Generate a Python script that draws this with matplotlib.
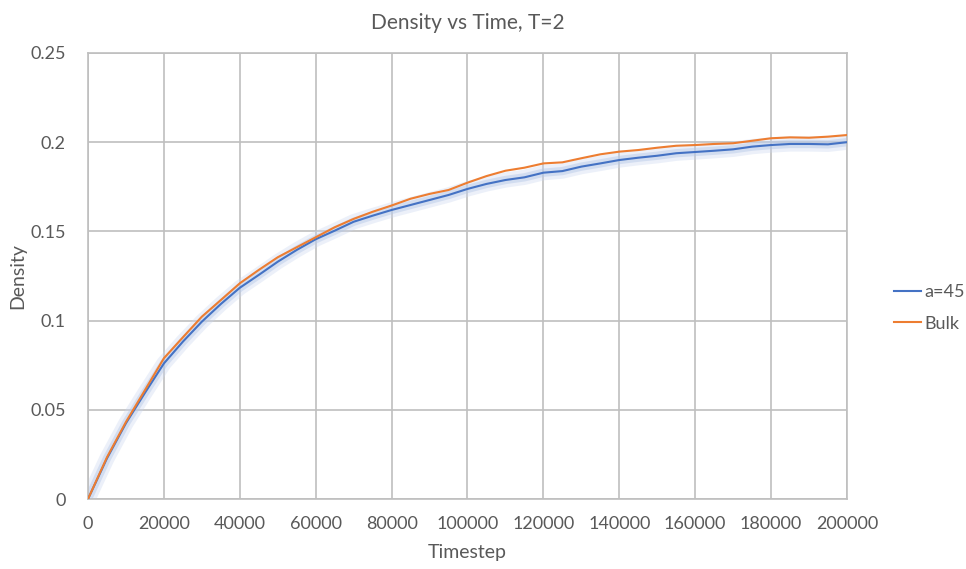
import matplotlib.pyplot as plt
import numpy as np

plt.rcParams['font.family'] = ['Lato', 'DejaVu Sans']

# 时间步 (every 5000 steps)
timestep = [0, 5000, 10000, 15000, 20000, 25000, 30000, 35000, 40000, 45000,
            50000, 55000, 60000, 65000, 70000, 75000, 80000, 85000, 90000, 95000,
            100000, 105000, 110000, 115000, 120000, 125000, 130000, 135000, 140000, 145000,
            150000, 155000, 160000, 165000, 170000, 175000, 180000, 185000, 190000, 195000,
            200000]

density_a45 = [0.0, 0.0228, 0.0425, 0.0595, 0.0760, 0.0882, 0.0994, 0.1093, 0.1184, 0.1256,
               0.1330, 0.1396, 0.1456, 0.1504, 0.1554, 0.1588, 0.1620, 0.1648, 0.1676, 0.1704,
               0.1738, 0.1766, 0.1788, 0.1803, 0.1829, 0.1838, 0.1863, 0.1881, 0.1900, 0.1913,
               0.1924, 0.1938, 0.1945, 0.1952, 0.1960, 0.1975, 0.1984, 0.1990, 0.1990, 0.1988,
               0.2000]

density_bulk = [0.0, 0.0234, 0.0432, 0.0610, 0.0789, 0.0906, 0.1022, 0.1115, 0.1209, 0.1284,
                0.1355, 0.1411, 0.1467, 0.1523, 0.1570, 0.1610, 0.1645, 0.1683, 0.1710, 0.1732,
                0.1773, 0.1810, 0.1840, 0.1857, 0.1881, 0.1887, 0.1910, 0.1932, 0.1947, 0.1956,
                0.1969, 0.1980, 0.1984, 0.1990, 0.1994, 0.2008, 0.2022, 0.2027, 0.2025, 0.2031,
                0.2040]

x_ticks = np.arange(0, 200001, 20000)
y_ticks = [0, 0.05, 0.1, 0.15, 0.2, 0.25]
y_tick_labels = ['0', '0.05', '0.1', '0.15', '0.2', '0.25']

text_color = '#595959'
grid_color = '#bfbfbf'

fig = plt.figure(figsize=(9.66, 5.69), dpi=100)
ax = fig.add_axes([0.0911, 0.123, 0.7857, 0.7839])

# 蓝线的发光效果
ax.plot(timestep, density_a45, color='#c9d6ef', lw=11, alpha=0.35, solid_capstyle='round', zorder=2)
ax.plot(timestep, density_a45, color='#b4c7e7', lw=6, alpha=0.45, solid_capstyle='round', zorder=2)

ax.plot(timestep, density_a45, color='#4472c4', lw=1.5, label='a=45', zorder=3)
ax.plot(timestep, density_bulk, color='#ed7d31', lw=1.5, label='Bulk', zorder=4)

ax.set_xlim(0, 200000)
ax.set_ylim(0, 0.25)
ax.set_xticks(x_ticks)
ax.set_xticklabels([str(v) for v in x_ticks])
ax.set_yticks(y_ticks)
ax.set_yticklabels(y_tick_labels)

ax.grid(True, color=grid_color, lw=1.2)
ax.set_axisbelow(True)
for s in ax.spines.values():
    s.set_color(grid_color)
    s.set_linewidth(1.2)

ax.tick_params(length=0, labelsize=13, colors=text_color)
ax.tick_params(axis='y', pad=16)
ax.tick_params(axis='x', pad=12)

ax.set_title('Density vs Time, T=2', fontsize=15, color=text_color, pad=17)
ax.set_xlabel('Timestep', fontsize=14, color=text_color, va='center')
ax.set_ylabel('Density', fontsize=14, color=text_color, va='center')
ax.xaxis.set_label_coords(0.5, -0.121)
ax.yaxis.set_label_coords(-0.092, 0.5)

leg = ax.legend(loc='center left', bbox_to_anchor=(1.04, 0.428), frameon=False,
                fontsize=13, handlelength=1.5, handletextpad=0.2, labelspacing=0.85)
for t in leg.get_texts():
    t.set_color(text_color)

plt.savefig('out.png', dpi=100)
